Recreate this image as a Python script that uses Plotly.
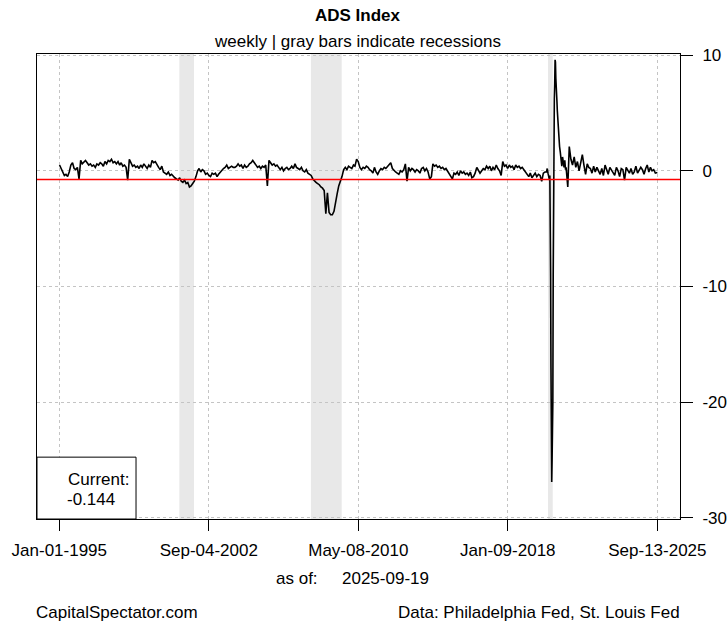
import pandas as pd
import plotly.graph_objects as go

# ---------------- data ----------------
monthly_1995_2019 = [
    # 1995
    0.5, 0.2, -0.2, -0.4, -0.3, -0.5, -0.1, 0.5, 0.7, 0.2, 0.1, 0.3,
    # 1996
    -0.7, 0.9, 0.6, 0.8, 0.9, 0.7, 0.5, 0.6, 0.4, 0.5, 0.3, 0.6,
    # 1997
    0.5, 0.7, 0.6, 0.4, 0.8, 0.6, 0.9, 0.8, 1.0, 0.7, 0.8, 0.6,
    # 1998
    0.8, 0.5, 0.7, 0.4, 0.5, 0.3, -0.8, 1.0, 0.6, 0.4, 0.5, 0.3,
    # 1999
    0.4, 0.2, 0.5, 0.3, 0.6, 0.4, 0.2, 0.5, 0.3, 0.9, 0.7, 0.8,
    # 2000
    0.5, 0.3, 0.1, 0.4, -0.1, -0.2, -0.3, -0.1, -0.4, -0.3, -0.5, -0.6,
    # 2001
    -0.7, -0.8, -0.6, -0.9, -1.0, -0.8, -1.1, -1.0, -1.4, -1.3, -1.1, -0.9,
    # 2002
    -0.5, 0.0, 0.2, -0.1, 0.1, 0.0, -0.3, -0.2, -0.4, -0.5, -0.2, -0.3,
    # 2003
    -0.2, -0.5, -0.3, -0.1, 0.0, 0.2, 0.3, 0.5, 0.2, 0.3, 0.4, 0.3,
    # 2004
    0.3, 0.4, 0.6, 0.4, 0.5, 0.2, 0.5, 0.3, 0.4, 0.6, 0.7, 0.9,
    # 2005
    0.7, 0.5, 0.3, 0.4, 0.2, 0.4, 0.3, 0.5, -1.3, 0.9, 0.7, 0.5,
    # 2006
    0.6, 0.4, 0.5, 0.3, 0.1, 0.3, 0.0, 0.2, 0.3, 0.1, 0.2, 0.4,
    # 2007
    0.2, 0.6, 0.3, 0.2, 0.1, 0.3, 0.0, -0.1, 0.1, -0.2, -0.3, -0.4,
    # 2008
    -0.7, -0.9, -1.0, -1.1, -1.2, -1.4, -1.5, -1.7, -3.7, -1.9, -3.6, -3.8,
    # 2009
    -3.8, -3.5, -2.6, -2.0, -1.3, -0.9, -0.5, 0.1, 0.3, 0.1, 0.4, 0.3,
    # 2010
    0.2, 0.5, 0.4, 1.0, 0.8, 0.3, 0.1, 0.3, 0.2, 0.4, 0.3, 0.1,
    # 2011
    0.0, -0.2, 0.3, -0.1, -0.3, 0.0, 0.2, 0.1, 0.3, 0.2, 0.4, 0.5,
    # 2012
    0.7, 0.2, 0.0, -0.1, -0.2, -0.3, 0.0, -0.1, 0.1, 0.6, -0.9, 0.3,
    # 2013
    0.0, 0.2, 0.1, -0.1, 0.1, 0.0, -0.2, 0.2, 0.3, 0.0, 0.2, -0.1,
    # 2014
    -0.7, -0.5, 0.6, 0.4, 0.5, 0.3, 0.4, 0.2, 0.3, 0.1, 0.2, 0.0,
    # 2015
    -0.3, -0.5, -0.7, -0.2, -0.3, -0.1, -0.4, 0.0, -0.2, -0.1, -0.3, -0.2,
    # 2016
    -0.4, -0.1, -0.6, -0.5, -0.2, 0.3, 0.1, -0.2, 0.0, 0.2, 0.1, 0.4,
    # 2017
    0.2, 0.4, 0.0, 0.3, 0.1, 0.5, 0.2, 0.0, -0.4, 0.8, 0.4, 0.5,
    # 2018
    0.2, 0.5, 0.3, 0.4, 0.1, 0.5, 0.3, 0.4, 0.2, 0.3, 0.1, -0.1,
    # 2019
    -0.3, -0.5, -0.2, -0.6, -0.4, -0.2, -0.5, -0.3, -0.4, -0.9, -0.2, -0.1,
]

dates_2020 = [
    "2020-01-04", "2020-01-18", "2020-02-01", "2020-02-15", "2020-02-29",
    "2020-03-07", "2020-03-14", "2020-03-21", "2020-03-28", "2020-04-04",
    "2020-04-11", "2020-04-18", "2020-04-25", "2020-05-02", "2020-05-09",
    "2020-05-16", "2020-05-23", "2020-05-30", "2020-06-06", "2020-06-13",
    "2020-06-20", "2020-06-27", "2020-07-04", "2020-07-11", "2020-07-18",
    "2020-07-25", "2020-08-08", "2020-08-22", "2020-09-05", "2020-09-19",
    "2020-10-03", "2020-10-17", "2020-10-31", "2020-11-14", "2020-11-28",
    "2020-12-12", "2020-12-26",
]
values_2020 = [
    -0.1, 0.2, -0.2, -0.5, -0.8,
    -0.4, -3.5, -9.0, -17.0, -24.1,
    -26.9, -25.0, -22.5, -20.0, -9.0,
    1.5, 6.1, 6.2, 7.5, 9.6,
    9.4, 8.0, 6.2, 6.1, 6.0,
    5.2, 3.8, 3.0, 2.1, 1.6,
    1.2, 0.4, 1.2, 0.8, 0.3,
    0.9, 0.1,
]

monthly_2021_2025 = [
    # 2021
    0.3, -1.4, 2.1, 1.0, 0.5, 1.2, 0.3, 0.8, 0.0, 0.6, 1.4, 0.5,
    # 2022
    -0.3, 0.6, 0.3, 0.2, -0.2, 0.4, -0.1, 0.3, 0.0, -0.3, 0.2, -0.4,
    # 2023
    0.5, 0.0, -0.3, 0.3, 0.1, -0.2, -0.4, 0.3, 0.0, -0.5, 0.2, 0.1,
    # 2024
    -0.8, 0.3, 0.1, -0.2, 0.2, -0.3, -0.1, 0.4, -0.2, 0.0, 0.3, 0.1,
    # 2025
    -0.3, 0.2, 0.5, -0.1, 0.3, 0.0, 0.1, -0.2, -0.144,
]

recession_starts = ["2001-03-01", "2007-12-01", "2020-02-01"]
recession_ends = ["2001-11-30", "2009-06-30", "2020-04-30"]

threshold = -0.75
current_value = -0.144
as_of = "2025-09-19"

x_tick_dates = ["1995-01-01", "2002-09-04", "2010-05-08", "2018-01-09", "2025-09-13"]
x_tick_text = ["Jan-01-1995", "Sep-04-2002", "May-08-2010", "Jan-09-2018", "Sep-13-2025"]
y_tick_vals = [10, 0, -10, -20, -30]

# ---------------- build series ----------------
d1 = pd.date_range("1995-01-01", periods=len(monthly_1995_2019), freq="MS") + pd.Timedelta(days=5)
d3 = pd.date_range("2021-01-01", periods=len(monthly_2021_2025), freq="MS") + pd.Timedelta(days=5)
d3 = d3[:-1].append(pd.DatetimeIndex(["2025-09-13"]))
dates = list(d1) + list(pd.to_datetime(dates_2020)) + list(d3)
values = monthly_1995_2019 + values_2020 + monthly_2021_2025

FONT = "Liberation Sans, Arial, sans-serif"
FS = 17

fig = go.Figure()

# recession shading
for s, e in zip(recession_starts, recession_ends):
    fig.add_shape(type="rect", xref="x", yref="y domain", x0=s, x1=e, y0=0, y1=1,
                  fillcolor="#E8E8E8", line_width=0, layer="below")

fig.add_trace(go.Scatter(x=dates, y=values, mode="lines",
                         line=dict(color="black", width=1.6), showlegend=False,
                         hoverinfo="x+y"))

# threshold line
fig.add_shape(type="line", xref="x domain", yref="y", x0=0, x1=1, y0=threshold, y1=threshold,
              line=dict(color="#FF0000", width=1.5))

# current value box
fig.add_shape(type="rect", xref="x domain", yref="y domain", x0=0, x1=0.154, y0=0, y1=0.133,
              fillcolor="white", line=dict(color="black", width=1))
fig.add_annotation(xref="x domain", yref="y domain", x=0.048, y=0.084, xanchor="left", yanchor="middle",
                   xshift=-2, text="Current:", showarrow=False, font=dict(family=FONT, size=FS, color="black"))
fig.add_annotation(xref="x domain", yref="y domain", x=0.047, y=0.041, xanchor="left", yanchor="middle",
                   xshift=-2, text=f"{current_value:.3f}", showarrow=False, font=dict(family=FONT, size=FS, color="black"))

# titles
fig.add_annotation(xref="paper", yref="paper", x=0.5, y=1, xanchor="center", yanchor="middle",
                   xshift=-1, yshift=39, text="<b>ADS Index</b>", showarrow=False,
                   font=dict(family=FONT, size=FS, color="black"))
fig.add_annotation(xref="paper", yref="paper", x=0.5, y=1, xanchor="center", yanchor="middle",
                   xshift=-1, yshift=13, text="weekly | gray bars indicate recessions", showarrow=False,
                   font=dict(family=FONT, size=FS, color="black"))

# bottom texts
fig.add_annotation(xref="paper", yref="paper", x=0.440, y=0, xanchor="right", yanchor="middle",
                   yshift=-59, text="as of:", showarrow=False,
                   font=dict(family=FONT, size=FS, color="black"))
fig.add_annotation(xref="paper", yref="paper", x=0.471, y=0, xanchor="left", yanchor="middle",
                   yshift=-59, text=as_of, showarrow=False,
                   font=dict(family=FONT, size=FS, color="black"))
fig.add_annotation(xref="paper", yref="paper", x=0, y=0, xanchor="left", yanchor="middle",
                   xshift=-3, yshift=-93, text="CapitalSpectator.com", showarrow=False,
                   font=dict(family=FONT, size=FS, color="black"))
fig.add_annotation(xref="paper", yref="paper", x=1, y=0, xanchor="right", yanchor="middle",
                   xshift=2, yshift=-93, text="Data: Philadelphia Fed, St. Louis Fed", showarrow=False,
                   font=dict(family=FONT, size=FS, color="black"))

fig.update_xaxes(type="date", range=["1993-11-09", "2026-11-11"], automargin=False,
                 tickvals=x_tick_dates, ticktext=x_tick_text,
                 ticks="outside", ticklen=11, tickcolor="black", tickwidth=1,
                 ticklabelstandoff=5,
                 showgrid=True, gridcolor="#C4C4C4", griddash="3px,3px", gridwidth=1,
                 showline=True, linecolor="black", linewidth=1, mirror=True,
                 zeroline=False, tickfont=dict(family=FONT, size=FS, color="black"))
fig.update_yaxes(range=[-30.1, 10.1], side="right", tickvals=y_tick_vals, automargin=False,
                 ticktext=[str(v) for v in y_tick_vals],
                 ticks="outside", ticklen=12, tickcolor="black", tickwidth=1,
                 ticklabelstandoff=6,
                 showgrid=True, gridcolor="#C4C4C4", griddash="3px,3px", gridwidth=1,
                 showline=True, linecolor="black", linewidth=1, mirror=True,
                 zeroline=False, tickfont=dict(family=FONT, size=FS, color="black"))

fig.update_layout(width=727, height=621, margin=dict(l=37, r=47, t=54, b=102),
                  plot_bgcolor="white", paper_bgcolor="white", showlegend=False)

fig.write_html("out.html", config={"displayModeBar": False},
               post_script="document.body.style.margin='0';document.body.style.overflow='hidden';")
